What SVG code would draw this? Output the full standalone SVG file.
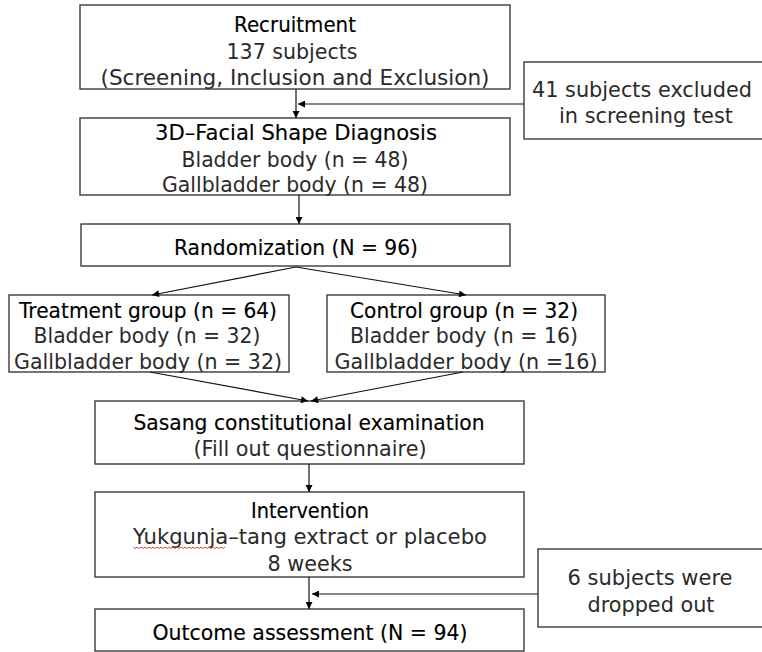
<svg xmlns="http://www.w3.org/2000/svg" width="762" height="652" viewBox="0 0 762 652">
<defs>
<marker id="ah" viewBox="0 0 10 10" refX="10" refY="5" markerWidth="8" markerHeight="7" markerUnits="userSpaceOnUse" orient="auto">
<path d="M0,0 L10,5 L0,10 z" fill="#000"/>
</marker>
<style>
.box{fill:#fff;stroke:#3a3a3a;stroke-width:1.4}
.t{font-family:"DejaVu Sans","Liberation Sans",sans-serif;font-size:22px;text-anchor:middle;fill:#2a2a2a}
.h{fill:#000;stroke:#000;stroke-width:0.15}
.c{fill:none;stroke:#111;stroke-width:1.2;marker-end:url(#ah)}
</style>
</defs>
<rect width="762" height="652" fill="#fff"/>

<g id="recruitment">
<rect class="box" x="80" y="5" width="430" height="84"/>
<text class="t h" x="295" y="32" textLength="122" lengthAdjust="spacingAndGlyphs">Recruitment</text>
<text class="t" x="292" y="59" textLength="131" lengthAdjust="spacingAndGlyphs">137 subjects</text>
<text class="t" x="295" y="85" textLength="389" lengthAdjust="spacingAndGlyphs">(Screening, Inclusion and  Exclusion)</text>
</g>

<g id="excluded">
<rect class="box" x="524" y="62" width="240" height="77"/>
<text class="t" x="642" y="97" textLength="220" lengthAdjust="spacingAndGlyphs">41 subjects excluded</text>
<text class="t" x="646" y="123" textLength="174" lengthAdjust="spacingAndGlyphs">in screening test</text>
</g>

<g id="diagnosis">
<rect class="box" x="80" y="118" width="430" height="77"/>
<text class="t h" x="296" y="140" textLength="282" lengthAdjust="spacingAndGlyphs">3D–Facial Shape Diagnosis</text>
<text class="t" x="295" y="167" textLength="227" lengthAdjust="spacingAndGlyphs">Bladder body (n = 48)</text>
<text class="t" x="295" y="192" textLength="266" lengthAdjust="spacingAndGlyphs">Gallbladder body (n = 48)</text>
</g>

<g id="randomization">
<rect class="box" x="81" y="224" width="429" height="42"/>
<text class="t h" x="296" y="255" textLength="244" lengthAdjust="spacingAndGlyphs">Randomization (N = 96)</text>
</g>

<g id="treatment">
<rect class="box" x="9" y="295" width="280" height="77"/>
<text class="t h" x="148" y="318" textLength="258" lengthAdjust="spacingAndGlyphs">Treatment group (n = 64)</text>
<text class="t" x="147" y="343" textLength="227" lengthAdjust="spacingAndGlyphs">Bladder body (n = 32)</text>
<text class="t" x="148" y="369" textLength="268" lengthAdjust="spacingAndGlyphs">Gallbladder body (n = 32)</text>
</g>

<g id="control">
<rect class="box" x="327" y="295" width="278" height="77"/>
<text class="t h" x="464" y="318" textLength="228" lengthAdjust="spacingAndGlyphs">Control group (n = 32)</text>
<text class="t" x="464" y="343" textLength="228" lengthAdjust="spacingAndGlyphs">Bladder body (n = 16)</text>
<text class="t" x="466" y="369" textLength="263" lengthAdjust="spacingAndGlyphs">Gallbladder body (n =16)</text>
</g>

<g id="sasang">
<rect class="box" x="95" y="401" width="429" height="63"/>
<text class="t h" x="309" y="430" textLength="351" lengthAdjust="spacingAndGlyphs">Sasang constitutional examination</text>
<text class="t" x="310" y="456" textLength="233" lengthAdjust="spacingAndGlyphs">(Fill out questionnaire)</text>
</g>

<g id="intervention">
<rect class="box" x="95" y="492" width="429" height="85"/>
<text class="t h" x="310" y="518" textLength="118" lengthAdjust="spacingAndGlyphs">Intervention</text>
<text class="t" x="310" y="544" textLength="354" lengthAdjust="spacingAndGlyphs">Yukgunja–tang extract or placebo</text>
<path d="M133,547 l2,1.5 l2,-1.5 l2,1.5 l2,-1.5 l2,1.5 l2,-1.5 l2,1.5 l2,-1.5 l2,1.5 l2,-1.5 l2,1.5 l2,-1.5 l2,1.5 l2,-1.5 l2,1.5 l2,-1.5 l2,1.5 l2,-1.5 l2,1.5 l2,-1.5 l2,1.5 l2,-1.5 l2,1.5 l2,-1.5 l2,1.5 l2,-1.5 l2,1.5 l2,-1.5 l2,1.5 l2,-1.5 l2,1.5 l2,-1.5 l2,1.5 l2,-1.5 l2,1.5 l2,-1.5 l2,1.5 l2,-1.5 l2,1.5 l2,-1.5 l2,1.5 l2,-1.5 l2,1.5 l2,-1.5 l2,1.5 l2,-1.5" fill="none" stroke="#e03030" stroke-width="0.9"/>
<text class="t" x="310" y="571" textLength="85" lengthAdjust="spacingAndGlyphs">8 weeks</text>
</g>

<g id="dropped">
<rect class="box" x="538" y="549" width="226" height="78"/>
<text class="t" x="650" y="585" textLength="165" lengthAdjust="spacingAndGlyphs">6 subjects were</text>
<text class="t" x="651" y="612" textLength="127" lengthAdjust="spacingAndGlyphs">dropped out</text>
</g>

<g id="outcome">
<rect class="box" x="95" y="609" width="429" height="42"/>
<text class="t h" x="310" y="640" textLength="315" lengthAdjust="spacingAndGlyphs">Outcome assessment (N = 94)</text>
</g>

<g id="connectors">
<line class="c" x1="296" y1="89" x2="296" y2="118"/>
<line class="c" x1="524" y1="104" x2="298" y2="104"/>
<line class="c" x1="299" y1="195" x2="299" y2="224"/>
<line class="c" x1="296" y1="267" x2="152" y2="295"/>
<line class="c" x1="296" y1="267" x2="466" y2="295"/>
<line class="c" x1="150" y1="372" x2="308" y2="401"/>
<line class="c" x1="463" y1="372" x2="311" y2="401"/>
<line class="c" x1="309" y1="464" x2="309" y2="492"/>
<line class="c" x1="309" y1="577" x2="309" y2="609"/>
<line class="c" x1="538" y1="594" x2="312" y2="594"/>
</g>
</svg>
